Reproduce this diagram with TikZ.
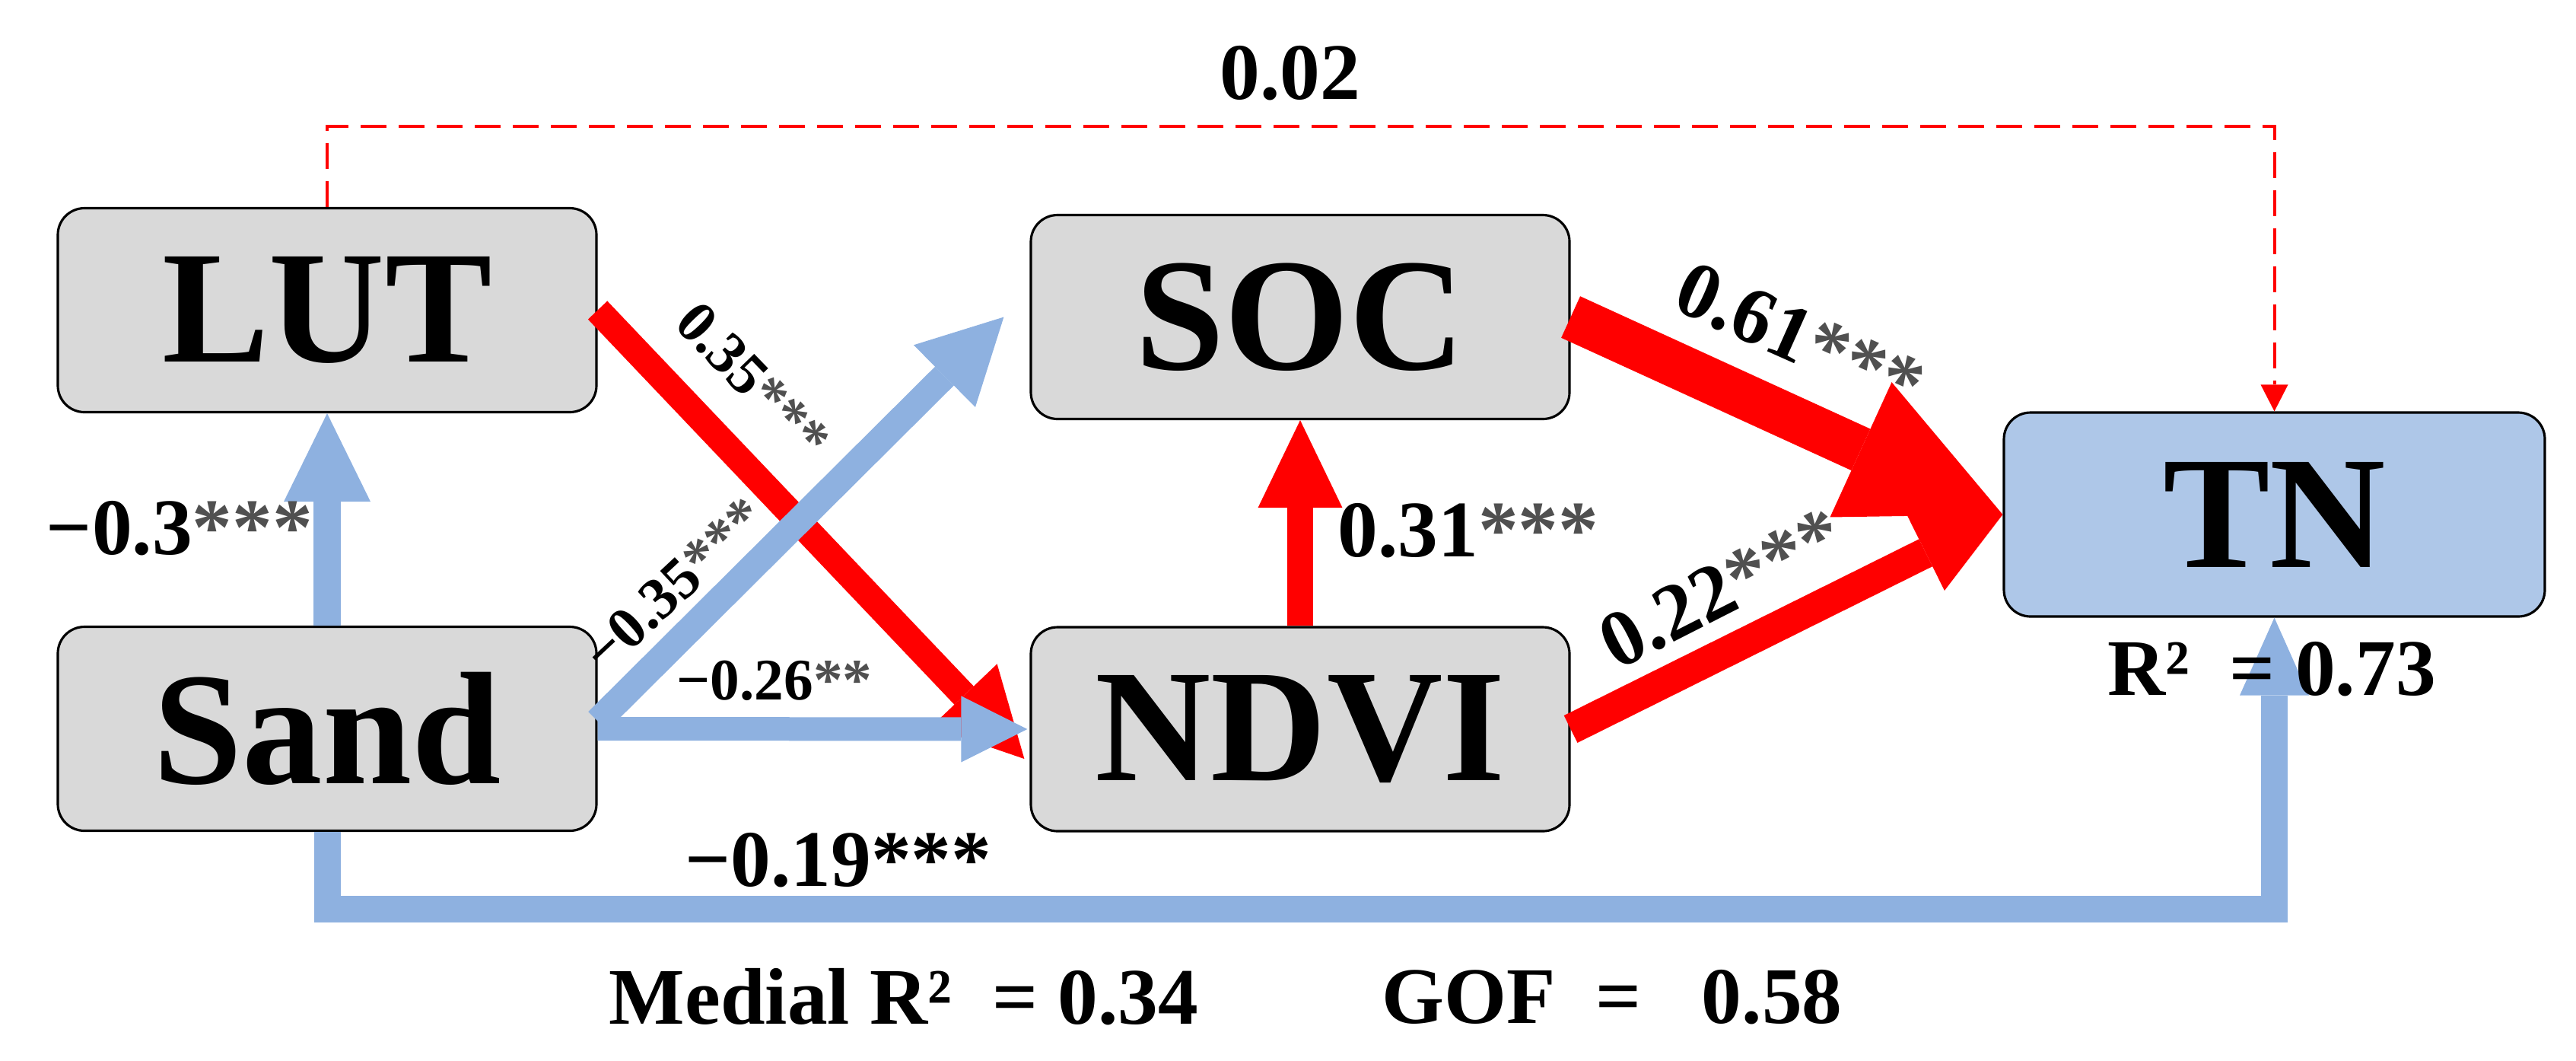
\documentclass[tikz,border=0pt]{standalone}
\usepackage{fontspec}
\setmainfont{Liberation Serif}
\usepackage{xcolor}
\usetikzlibrary{arrows.meta}

\definecolor{boxgray}{HTML}{D9D9D9}
\definecolor{tnblue}{HTML}{AEC7E8}
\definecolor{pathblue}{HTML}{8EB1E0}
\definecolor{pathred}{HTML}{FF0000}
\definecolor{stargray}{HTML}{505050}
\newcommand{\sig}[1]{\textcolor{stargray}{#1}}

\begin{document}
\begin{tikzpicture}[
    var/.style={draw=black, line width=0.9pt, rounded corners=0.35cm, fill=boxgray,
        minimum width=7.08cm, minimum height=2.68cm, font=\fontsize{60}{60}\selectfont\bfseries},
    redpath/.style={draw=pathred},
    bluepath/.style={draw=pathblue},
    coef/.style={font=\fontsize{30}{30}\selectfont\bfseries, inner sep=0pt},
    small coef/.style={font=\fontsize{22}{22}\selectfont\bfseries, inner sep=0pt}
]
\useasboundingbox (0,0) rectangle (33.86,-13.93);

\node[var] (LUT) at (4.30,-4.075) {LUT};
\node[var] (Sand) at (4.30,-9.575) {Sand};
\node[var] (SOC) at (17.09,-4.165) {SOC};
\node[var] (NDVI) at (17.09,-9.58) {NDVI};
\node[var, fill=tnblue, minimum width=7.11cm] (TN) at (29.895,-6.76) {TN};

% paths
\draw[redpath, line width=0.04cm, dash pattern=on 0.34cm off 0.16cm,
    -{Triangle[length=0.35cm,width=0.36cm,line width=0pt]}] (LUT.north) -- ++(0,1.06) -| (TN.north);
\draw[redpath, line width=0.35cm, -{Triangle[length=1.15cm,width=1.2cm,line width=0pt]}]
    (LUT.east) -- ([xshift=-0.07cm,yshift=-0.39cm]NDVI.west);
\draw[bluepath, line width=0.36cm, -{Triangle[length=1.16cm,width=1.14cm,line width=0pt]}]
    (Sand.north) -- (LUT.south);
\draw[bluepath, line width=0.35cm, -{Triangle[length=1.1cm,width=1.15cm,line width=0pt]}]
    ([yshift=0.1cm]Sand.east) -- ([xshift=-0.34cm]SOC.west);
\draw[bluepath, line width=0.31cm, -{Triangle[length=0.87cm,width=0.87cm,line width=0pt]}]
    (Sand.east) -- ([xshift=-0.03cm]NDVI.west);
\draw[bluepath, line width=0.35cm, line join=miter, -{Triangle[length=1.02cm,width=0.91cm,line width=0pt]}]
    (Sand.south) -- ++(0,-1.01) -| (TN.south);
\draw[redpath, line width=0.34cm, -{Triangle[length=1.15cm,width=1.11cm,line width=0pt]}]
    (NDVI.north) -- (SOC.south);
\draw[redpath, line width=0.4cm, -{Triangle[length=1.13cm,width=1.11cm,line width=0pt]}]
    (NDVI.east) -- (TN.west);
\draw[redpath, line width=0.6cm, -{Triangle[length=2.05cm,width=1.95cm,line width=0pt]}]
    (SOC.east) -- (TN.west);

% coefficients
\node[coef] (c002) at (16.96,-0.96) {0.02};
\node[coef] (c03) at (2.36,-6.94) {−0.3\sig{***}};
\node[small coef, rotate=-46] (c035) at (9.90,-5.00) {0.35\sig{***}};
\node[small coef, rotate=43] (c035n) at (8.86,-7.68) {−0.35\sig{***}};
\node[small coef] (c026) at (10.18,-8.94) {−0.26\sig{**}};
\node[coef] (c031) at (19.30,-6.97) {0.31\sig{***}};
\node[coef, rotate=-24] (c061) at (23.66,-4.43) {0.61\sig{***}};
\node[coef, rotate=27] (c022) at (22.63,-7.73) {0.22\sig{***}};
\node[coef] (c019) at (11.02,-11.30) {−0.19***};
\node[coef] (r2) at (29.86,-8.79) {R²~~= 0.73};
\node[coef] (medial) at (11.88,-13.10) {Medial R²~~= 0.34};
\node[coef] (gof) at (21.19,-13.10) {GOF~~=~~~0.58};
\end{tikzpicture}
\end{document}
